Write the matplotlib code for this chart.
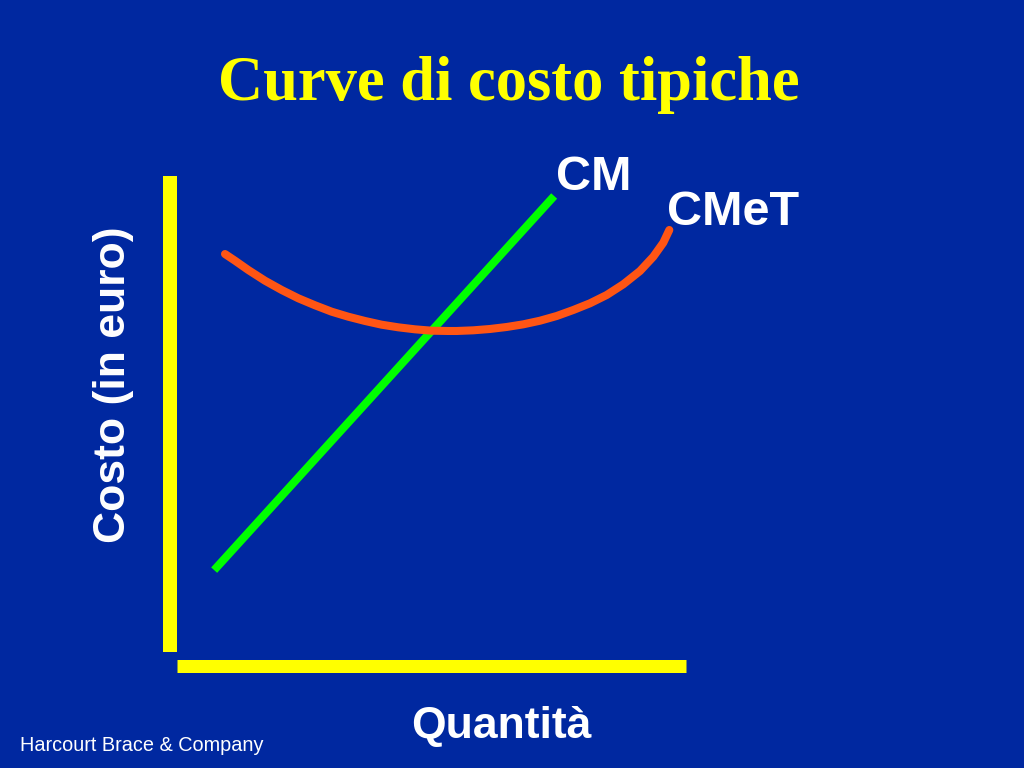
import numpy as np
import matplotlib
matplotlib.use("Agg")
import matplotlib.pyplot as plt

# data (arbitrary units, 0..10 on both axes)
cm_q = [0.73, 7.41]
cm_cost = [1.72, 9.58]

cmet_q = [0.943, 1.139, 1.401, 1.729, 2.057, 2.383, 2.711, 3.039, 3.365, 3.694,
	4.022, 4.348, 4.676, 5.004, 5.330, 5.495, 5.821, 6.149, 6.477, 6.804,
	7.132, 7.460, 7.786, 8.114, 8.442, 8.768, 9.096, 9.358, 9.554, 9.672]
cmet_cost = [8.361, 8.221, 8.025, 7.800, 7.605, 7.431, 7.284, 7.149, 7.044, 6.954,
	6.876, 6.821, 6.779, 6.750, 6.744, 6.744, 6.758, 6.786, 6.828, 6.884,
	6.960, 7.059, 7.185, 7.326, 7.500, 7.725, 8.004, 8.305, 8.599, 8.866]

title = "Curve di costo tipiche"
xlabel = "Quantità"
ylabel = "Costo (in euro)"
footer = "Harcourt Brace & Company"

BG = "#0028A0"
YELLOW = "#FFFF00"
GREEN = "#00FF00"
ORANGE = "#FF5514"

W, H = 1024, 768

def fx(px):
	return px / W

def fy(py):
	return 1 - py / H

fig = plt.figure(figsize=(W / 100, H / 100), dpi=100, facecolor=BG)

# axes box in pixels: left 177, right 686, top 176, bottom 652
ax = fig.add_axes([fx(177), fy(652), (686 - 177) / W, (652 - 176) / H])
ax.set_facecolor(BG)
ax.set_xlim(0, 10)
ax.set_ylim(0, 10)
ax.set_xticks([])
ax.set_yticks([])

for s in ["top", "right"]:
	ax.spines[s].set_visible(False)
# thick yellow axes, slightly detached like on the slide
ax.spines["left"].set_position(("outward", 7 * 72 / 100))
ax.spines["left"].set_linewidth(14 * 72 / 100)
ax.spines["left"].set_color(YELLOW)
ax.spines["left"].set_capstyle("butt")
ax.spines["bottom"].set_position(("outward", 13.5 * 72 / 100))
ax.spines["bottom"].set_linewidth(13 * 72 / 100)
ax.spines["bottom"].set_color(YELLOW)
ax.spines["bottom"].set_capstyle("butt")

ax.plot(cm_q, cm_cost, color=GREEN, lw=5.8, solid_capstyle="butt", clip_on=False)
ax.plot(cmet_q, cmet_cost, color=ORANGE, lw=5.8, solid_capstyle="round",
	solid_joinstyle="round", clip_on=False)

fig.text(fx(509), fy(100), title, color=YELLOW, fontsize=45, fontweight="bold",
	family="Liberation Serif", ha="center", va="baseline")

fig.text(fx(556), fy(190), "CM", color="white", fontsize=35, fontweight="bold",
	family="Liberation Sans", ha="left", va="baseline")
fig.text(fx(667), fy(225), "CMeT", color="white", fontsize=35, fontweight="bold",
	family="Liberation Sans", ha="left", va="baseline")

fig.text(fx(113), fy(385), ylabel, color="white", fontsize=32, fontweight="bold",
	family="Liberation Sans", ha="center", va="center", rotation=90)
fig.text(fx(501), fy(738), xlabel, color="white", fontsize=32, fontweight="bold",
	family="Liberation Sans", ha="center", va="baseline")

fig.text(fx(20), fy(751), footer, color="white", fontsize=14.3,
	family="Liberation Sans", ha="left", va="baseline")

fig.savefig("out.png", dpi=100, facecolor=BG)
